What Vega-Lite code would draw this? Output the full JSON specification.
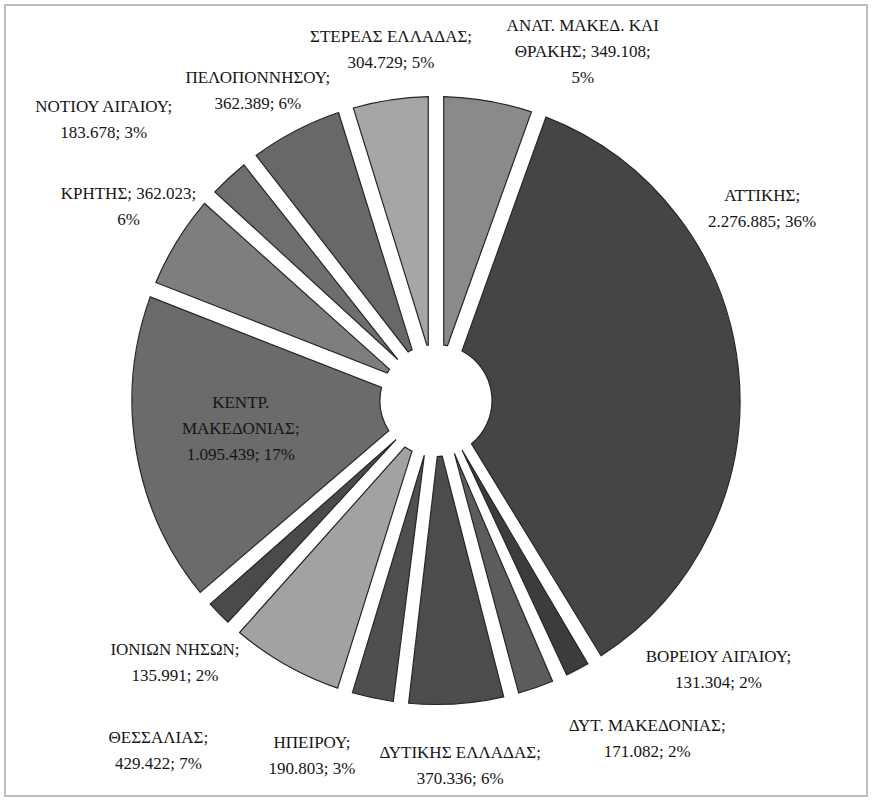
{
  "$schema": "https://vega.github.io/schema/vega-lite/v6.json",
  "width": 872,
  "height": 801,
  "autosize": {"type": "fit", "contains": "padding"},
  "padding": 5,
  "background": "white",
  "view": {"stroke": "#bdbdbd", "strokeWidth": 2},
  "data": {
    "values": [
      {"region": "ΑΝΑΤ. ΜΑΚΕΔ. ΚΑΙ ΘΡΑΚΗΣ", "value": 349108, "label": "ΑΝΑΤ. ΜΑΚΕΔ. ΚΑΙ\nΘΡΑΚΗΣ; 349.108;\n5%"},
      {"region": "ΑΤΤΙΚΗΣ", "value": 2276885, "label": "ΑΤΤΙΚΗΣ;\n2.276.885; 36%"},
      {"region": "ΒΟΡΕΙΟΥ ΑΙΓΑΙΟΥ", "value": 131304, "label": "ΒΟΡΕΙΟΥ ΑΙΓΑΙΟΥ;\n131.304; 2%"},
      {"region": "ΔΥΤ. ΜΑΚΕΔΟΝΙΑΣ", "value": 171082, "label": "ΔΥΤ. ΜΑΚΕΔΟΝΙΑΣ;\n171.082; 2%"},
      {"region": "ΔΥΤΙΚΗΣ ΕΛΛΑΔΑΣ", "value": 370336, "label": "ΔΥΤΙΚΗΣ ΕΛΛΑΔΑΣ;\n370.336; 6%"},
      {"region": "ΗΠΕΙΡΟΥ", "value": 190803, "label": "ΗΠΕΙΡΟΥ;\n190.803; 3%"},
      {"region": "ΘΕΣΣΑΛΙΑΣ", "value": 429422, "label": "ΘΕΣΣΑΛΙΑΣ;\n429.422; 7%"},
      {"region": "ΙΟΝΙΩΝ ΝΗΣΩΝ", "value": 135991, "label": "ΙΟΝΙΩΝ ΝΗΣΩΝ;\n135.991; 2%"},
      {"region": "ΚΕΝΤΡ. ΜΑΚΕΔΟΝΙΑΣ", "value": 1095439, "label": "ΚΕΝΤΡ.\nΜΑΚΕΔΟΝΙΑΣ;\n1.095.439; 17%"},
      {"region": "ΚΡΗΤΗΣ", "value": 362023, "label": "ΚΡΗΤΗΣ; 362.023;\n6%"},
      {"region": "ΝΟΤΙΟΥ ΑΙΓΑΙΟΥ", "value": 183678, "label": "ΝΟΤΙΟΥ ΑΙΓΑΙΟΥ;\n183.678; 3%"},
      {"region": "ΠΕΛΟΠΟΝΝΗΣΟΥ", "value": 362389, "label": "ΠΕΛΟΠΟΝΝΗΣΟΥ;\n362.389; 6%"},
      {"region": "ΣΤΕΡΕΑΣ ΕΛΛΑΔΑΣ", "value": 304729, "label": "ΣΤΕΡΕΑΣ ΕΛΛΑΔΑΣ;\n304.729; 5%"}
    ]
  },
  "encoding": {
    "theta": {"field": "value", "type": "quantitative", "stack": true}
  },
  "layer": [
    {
      "mark": {"type": "arc", "outerRadius": 304, "innerRadius": 56, "padAngle": 0.05, "stroke": "#262626", "strokeWidth": 1.2},
      "encoding": {
        "color": {
          "field": "region",
          "type": "nominal",
          "legend": null,
          "scale": {
            "domain": ["ΑΝΑΤ. ΜΑΚΕΔ. ΚΑΙ ΘΡΑΚΗΣ", "ΑΤΤΙΚΗΣ", "ΒΟΡΕΙΟΥ ΑΙΓΑΙΟΥ", "ΔΥΤ. ΜΑΚΕΔΟΝΙΑΣ", "ΔΥΤΙΚΗΣ ΕΛΛΑΔΑΣ", "ΗΠΕΙΡΟΥ", "ΘΕΣΣΑΛΙΑΣ", "ΙΟΝΙΩΝ ΝΗΣΩΝ", "ΚΕΝΤΡ. ΜΑΚΕΔΟΝΙΑΣ", "ΚΡΗΤΗΣ", "ΝΟΤΙΟΥ ΑΙΓΑΙΟΥ", "ΠΕΛΟΠΟΝΝΗΣΟΥ", "ΣΤΕΡΕΑΣ ΕΛΛΑΔΑΣ"],
            "range": ["#8a8a8a", "#454545", "#3c3c3c", "#5c5c5c", "#4c4c4c", "#4f4f4f", "#a2a2a2", "#4a4a4a", "#6b6b6b", "#7e7e7e", "#6e6e6e", "#686868", "#a6a6a6"]
          }
        }
      }
    },
    {
      "mark": {
        "type": "text",
        "font": "Liberation Serif",
        "fontSize": 17,
        "lineHeight": 26,
        "lineBreak": "\n",
        "align": "center",
        "baseline": "middle",
        "fill": "#151515",
        "radius": {"expr": "datum.region == 'ΚΕΝΤΡ. ΜΑΚΕΔΟΝΙΑΣ' ? 198 : 360"},
        "dx": {"expr": "datum.region == 'ΑΝΑΤ. ΜΑΚΕΔ. ΚΑΙ ΘΡΑΚΗΣ' ? 85 : datum.region == 'ΑΤΤΙΚΗΣ' ? -32 : datum.region == 'ΒΟΡΕΙΟΥ ΑΙΓΑΙΟΥ' ? 115 : datum.region == 'ΔΥΤ. ΜΑΚΕΔΟΝΙΑΣ' ? 93 : datum.region == 'ΗΠΕΙΡΟΥ' ? -49 : datum.region == 'ΘΕΣΣΑΛΙΑΣ' ? -100 : datum.region == 'ΙΟΝΙΩΝ ΝΗΣΩΝ' ? -4 : datum.region == 'ΚΡΗΤΗΣ' ? -1 : datum.region == 'ΝΟΤΙΟΥ ΑΙΓΑΙΟΥ' ? -87 : datum.region == 'ΠΕΛΟΠΟΝΝΗΣΟΥ' ? -12 : datum.region == 'ΣΤΕΡΕΑΣ ΕΛΛΑΔΑΣ' ? 9 : 0"},
        "dy": {"expr": "datum.region == 'ΑΝΑΤ. ΜΑΚΕΔ. ΚΑΙ ΘΡΑΚΗΣ' ? -20 : datum.region == 'ΑΤΤΙΚΗΣ' ? -168 : datum.region == 'ΒΟΡΕΙΟΥ ΑΙΓΑΙΟΥ' ? -62 : datum.region == 'ΔΥΤ. ΜΑΚΕΔΟΝΙΑΣ' ? -15 : datum.region == 'ΔΥΤΙΚΗΣ ΕΛΛΑΔΑΣ' ? -7 : datum.region == 'ΗΠΕΙΡΟΥ' ? -10 : datum.region == 'ΘΕΣΣΑΛΙΑΣ' ? 24 : datum.region == 'ΙΟΝΙΩΝ ΝΗΣΩΝ' ? -3 : datum.region == 'ΚΕΝΤΡ. ΜΑΚΕΔΟΝΙΑΣ' ? -31 : datum.region == 'ΚΡΗΤΗΣ' ? -18 : datum.region == 'ΝΟΤΙΟΥ ΑΙΓΑΙΟΥ' ? -30 : datum.region == 'ΠΕΛΟΠΟΝΝΗΣΟΥ' ? -3 : datum.region == 'ΣΤΕΡΕΑΣ ΕΛΛΑΔΑΣ' ? -8 : 0"}
      },
      "encoding": {
        "detail": {"field": "region", "type": "nominal"},
        "text": {"field": "label", "type": "nominal"}
      }
    }
  ]
}
